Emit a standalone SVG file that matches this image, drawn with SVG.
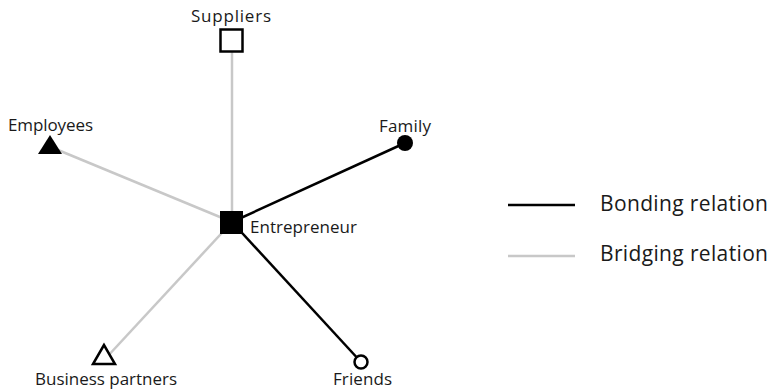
<svg xmlns="http://www.w3.org/2000/svg" width="772" height="392" viewBox="0 0 772 392">
<style>
text{font-family:"Open Sans","Noto Sans","Liberation Sans",sans-serif;fill:#1a1a1a}
.lbl{font-size:17px}
.leg{font-size:21px}
.bond{stroke:#000;stroke-width:2.5;fill:none}
.bridge{stroke:#c8c8c8;stroke-width:2.5;fill:none}
</style>
<rect width="772" height="392" fill="#fff"/>
<g id="connectors">
<line class="bridge" x1="232" y1="52" x2="232" y2="222"/>
<line class="bridge" x1="58" y1="150" x2="232" y2="222"/>
<line class="bridge" x1="106" y1="358" x2="232" y2="222"/>
<line class="bond" x1="405" y1="143" x2="232" y2="222"/>
<line class="bond" x1="361" y1="362" x2="232" y2="222"/>
</g>
<g id="suppliers">
<rect x="220.5" y="29.5" width="22" height="22" fill="#fff" stroke="#000" stroke-width="2.5"/>
<text class="lbl" x="231" y="22" text-anchor="middle" textLength="80">Suppliers</text>
</g>
<g id="employees">
<polygon points="50,135 38,154 62,154" fill="#000"/>
<text class="lbl" x="8" y="131" textLength="85">Employees</text>
</g>
<g id="entrepreneur">
<rect x="220" y="211" width="23" height="23" fill="#000"/>
<text class="lbl" x="250" y="233" textLength="107">Entrepreneur</text>
</g>
<g id="family">
<circle cx="405" cy="143" r="8" fill="#000"/>
<text class="lbl" x="379" y="132" textLength="52">Family</text>
</g>
<g id="business-partners">
<polygon points="104,345 93,364 115,364" fill="#fff" stroke="#000" stroke-width="2.5" stroke-linejoin="miter"/>
<text class="lbl" x="35" y="385" textLength="142">Business partners</text>
</g>
<g id="friends">
<circle cx="361" cy="362" r="6.5" fill="#fff" stroke="#000" stroke-width="2.5"/>
<text class="lbl" x="333" y="385" textLength="59">Friends</text>
</g>
<g id="legend">
<line class="bond" x1="508" y1="205" x2="575" y2="205"/>
<line class="bridge" x1="508" y1="256" x2="575" y2="256"/>
<text class="leg" x="600" y="211" textLength="168">Bonding relation</text>
<text class="leg" x="600" y="261" textLength="168">Bridging relation</text>
</g>
</svg>
